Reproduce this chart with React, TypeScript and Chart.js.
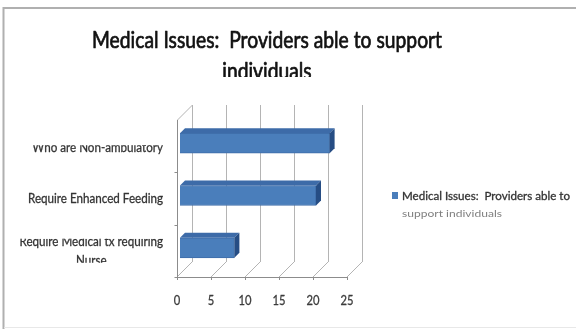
import { useEffect, useRef } from 'react';
import { Chart, registerables } from 'chart.js';

Chart.register(...registerables);

// Chart content
const titleLines = ['Medical Issues:  Providers able to support', 'individuals'];
const categoryLines = [
  ['Who are Non-ambulatory'],
  ['Require Enhanced Feeding'],
  ['Require Medical tx requiring', 'Nurse'],
];
const providerCounts = [22, 20, 8];
const xTickValues = [0, 5, 10, 15, 20, 25];
const seriesLegendLines = ['Medical Issues:  Providers able to', 'support individuals'];

const FONT = "Lato, 'Open Sans', sans-serif";
const W = 576;
const H = 329;

// 3D geometry: offsets from the bar plane to the front edge and the back wall
const FRONT = { dx: -3, dy: 3 };
const BACK = { dx: 12, dy: -12 };
const BAR_DEPTH = 5;

// Draws text squeezed horizontally by sx (narrow office-style lettering),
// optionally thickened with a thin outline of the same colour
function drawSqueezed(
  ctx: CanvasRenderingContext2D,
  text: string,
  x: number,
  y: number,
  sx: number,
  align: CanvasTextAlign,
  weight = 0
) {
  ctx.save();
  ctx.translate(x, y);
  ctx.scale(sx, 1);
  ctx.textAlign = align;
  ctx.fillText(text, 0, 0);
  if (weight > 0) {
    ctx.strokeStyle = ctx.fillStyle as string;
    ctx.lineWidth = weight;
    ctx.lineJoin = 'round';
    ctx.strokeText(text, 0, 0);
  }
  ctx.restore();
}

function squeezeFor(ctx: CanvasRenderingContext2D, text: string, width: number) {
  return width / ctx.measureText(text).width;
}

const excel3d = {
  id: 'excel3d',
  beforeDraw(chart: any) {
    const { ctx, chartArea: a, scales } = chart;
    const x = scales.x;
    const y = scales.y;
    ctx.save();
    ctx.fillStyle = '#ffffff';
    ctx.fillRect(0, 0, W, H);

    // outer frame
    ctx.strokeStyle = '#b0b0b0';
    ctx.lineWidth = 2;
    ctx.beginPath();
    ctx.moveTo(W, 8);
    ctx.lineTo(3.5, 8);
    ctx.lineTo(3.5, H);
    ctx.stroke();
    ctx.strokeStyle = '#e8e8e8';
    ctx.lineWidth = 1;
    ctx.beginPath();
    ctx.moveTo(4, 327.5);
    ctx.lineTo(W, 327.5);
    ctx.stroke();

    ctx.lineWidth = 1;
    ctx.strokeStyle = '#b4b4b4';
    const fy = a.bottom + FRONT.dy;
    const by = a.bottom + BACK.dy;
    const topFront = a.top + FRONT.dy;
    const topBack = a.top + BACK.dy;
    // back wall gridlines and floor diagonals
    xTickValues.forEach((v) => {
      const px = x.getPixelForValue(v);
      const xb = Math.round(px + BACK.dx) + 0.5;
      const xf = px + FRONT.dx;
      ctx.beginPath();
      ctx.moveTo(xb, topBack);
      ctx.lineTo(xb, by);
      ctx.stroke();
      ctx.beginPath();
      ctx.moveTo(xf, fy);
      ctx.lineTo(xf + (BACK.dx - FRONT.dx), by);
      ctx.stroke();
    });
    // left wall
    const x0f = Math.round(x.getPixelForValue(0) + FRONT.dx) + 0.5;
    ctx.beginPath();
    ctx.moveTo(x0f, topFront);
    ctx.lineTo(x0f + (BACK.dx - FRONT.dx), topBack);
    ctx.stroke();

    ctx.strokeStyle = '#8c8c8c';
    ctx.beginPath();
    ctx.moveTo(x0f, topFront);
    ctx.lineTo(x0f, fy + 3);
    ctx.stroke();
    // category separators on the left wall
    for (let i = 0; i < categoryLines.length - 1; i++) {
      const yy = Math.round((y.getPixelForValue(i) + y.getPixelForValue(i + 1)) / 2 + FRONT.dy) + 0.5;
      ctx.beginPath();
      ctx.moveTo(x0f - 3, yy);
      ctx.lineTo(x0f, yy);
      ctx.stroke();
    }
    // floor front edge with ticks
    const x25f = x.getPixelForValue(25) + FRONT.dx;
    ctx.beginPath();
    ctx.moveTo(x0f - 3, Math.round(fy) + 0.5);
    ctx.lineTo(x25f, Math.round(fy) + 0.5);
    ctx.stroke();
    xTickValues.forEach((v) => {
      const xf = Math.round(x.getPixelForValue(v) + FRONT.dx) + 0.5;
      ctx.beginPath();
      ctx.moveTo(xf, fy);
      ctx.lineTo(xf, fy + 3);
      ctx.stroke();
    });
    ctx.restore();
  },
  afterDatasetsDraw(chart: any) {
    const { ctx } = chart;
    const meta = chart.getDatasetMeta(0);
    ctx.save();
    meta.data.forEach((el: any) => {
      const p = el.getProps(['x', 'y', 'base', 'height'], true);
      const top = p.y - p.height / 2;
      const d = BAR_DEPTH;
      // top face
      ctx.fillStyle = '#3d6ba8';
      ctx.beginPath();
      ctx.moveTo(p.base, top);
      ctx.lineTo(p.x, top);
      ctx.lineTo(p.x + d, top - d);
      ctx.lineTo(p.base + d, top - d);
      ctx.closePath();
      ctx.fill();
      // end face
      ctx.fillStyle = '#264d84';
      ctx.beginPath();
      ctx.moveTo(p.x, top);
      ctx.lineTo(p.x + d, top - d);
      ctx.lineTo(p.x + d, top - d + p.height);
      ctx.lineTo(p.x, top + p.height);
      ctx.closePath();
      ctx.fill();
    });
    ctx.restore();
  },
  afterDraw(chart: any) {
    const { ctx, chartArea: a, scales } = chart;
    const x = scales.x;
    const y = scales.y;
    ctx.save();
    ctx.textBaseline = 'alphabetic';

    // title, its second line cut by the plot frame
    ctx.save();
    ctx.beginPath();
    ctx.rect(0, 0, W, 77);
    ctx.clip();
    ctx.fillStyle = '#111111';
    ctx.font = `22.5px ${FONT}`;
    const tsx = squeezeFor(ctx, titleLines[0], 350);
    drawSqueezed(ctx, titleLines[0], 267, 48, tsx, 'center', 0.7);
    drawSqueezed(ctx, titleLines[1], 267, 79, tsx, 'center', 0.7);
    ctx.restore();

    // category labels
    ctx.font = `13.5px ${FONT}`;
    ctx.fillStyle = '#333333';
    const labelRight = 163;
    const lsx = squeezeFor(ctx, categoryLines[1][0], 135);
    categoryLines.forEach((lines, i) => {
      const cy = y.getPixelForValue(i);
      ctx.save();
      ctx.beginPath();
      if (i === 0) ctx.rect(0, cy + 2, labelRight + 10, 30);
      else if (i === 2) ctx.rect(0, cy - 9, labelRight + 10, 24);
      else ctx.rect(0, cy - 20, labelRight + 10, 40);
      ctx.clip();
      if (lines.length === 1) {
        drawSqueezed(ctx, lines[0], labelRight, cy + (i === 0 ? 8.8 : 7.5), lsx, 'right', 0.3);
      } else {
        const blockW = Math.max(...lines.map((t) => ctx.measureText(t).width)) * lsx;
        const cx = labelRight - blockW / 2;
        lines.forEach((t, k) => drawSqueezed(ctx, t, cx, cy - 2 + k * 19, lsx, 'center', 0.3));
      }
      ctx.restore();
    });

    // value axis labels
    ctx.font = `14px ${FONT}`;
    ctx.fillStyle = '#3c3c3c';
    xTickValues.forEach((v) => {
      drawSqueezed(ctx, String(v), x.getPixelForValue(v) + FRONT.dx, a.bottom + 31, 0.8, 'center', 0.3);
    });

    // legend
    ctx.fillStyle = '#4a7ebb';
    ctx.fillRect(392, 192, 6, 7);
    ctx.fillStyle = '#333333';
    ctx.font = `11.5px ${FONT}`;
    drawSqueezed(ctx, seriesLegendLines[0], 402, 200, squeezeFor(ctx, seriesLegendLines[0], 168), 'left', 0.3);
    ctx.fillStyle = '#808080';
    ctx.font = `9px ${FONT}`;
    drawSqueezed(ctx, seriesLegendLines[1], 402, 217, squeezeFor(ctx, seriesLegendLines[1], 100), 'left');
    ctx.restore();
  },
};

export default function App() {
  const ref = useRef<HTMLCanvasElement | null>(null);
  useEffect(() => {
    if (!ref.current) return;
    const chart = new Chart(ref.current, {
      type: 'bar',
      data: {
        labels: categoryLines.map((l) => l.join(' ')),
        datasets: [
          {
            label: seriesLegendLines.join(' '),
            data: providerCounts,
            backgroundColor: '#4a7ebb',
            borderColor: '#3e6ca8',
            borderWidth: 1,
            barThickness: 20,
          },
        ],
      },
      options: {
        indexAxis: 'y',
        animation: false,
        responsive: false,
        layout: { padding: { left: 180, right: 226, top: 117, bottom: 55 } },
        scales: {
          x: { min: 0, max: 25, display: false },
          y: { display: false },
        },
        plugins: {
          legend: { display: false },
          title: { display: false },
          tooltip: { enabled: false },
        },
      },
      plugins: [excel3d],
    });
    return () => chart.destroy();
  }, []);
  return (
    <canvas
      ref={ref}
      width={W}
      height={H}
      style={{ position: 'fixed', left: 0, top: 0, width: W, height: H }}
    />
  );
}
